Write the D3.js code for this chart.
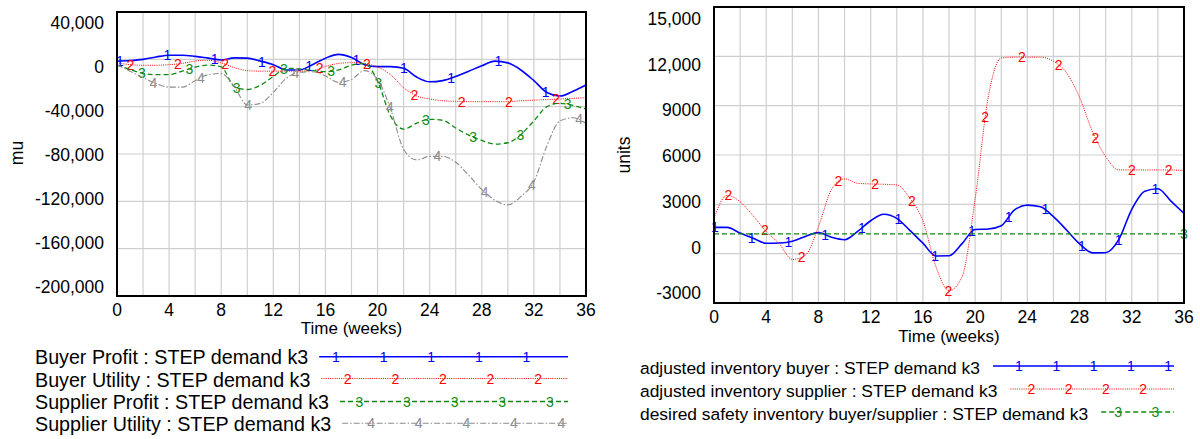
<!DOCTYPE html>
<html>
<head>
<meta charset="utf-8">
<script src="https://cdn.jsdelivr.net/npm/d3@7/dist/d3.min.js"></script>
<style>
  html, body { margin: 0; padding: 0; background: #fff; }
  svg { display: block; font-family: "Liberation Sans", Arial, sans-serif; }
</style>
</head>
<body>
<svg id="chart" width="1200" height="439"></svg>
<script>
// ---------------- DATA ----------------
const weeks = [0,1,2,3,4,5,6,7,8,9,10,11,12,13,14,15,16,17,18,19,20,21,22,23,24,25,26,27,28,29,30,31,32,33,34,35,36];

// Left chart (mu)
const buyerProfit = [-1500,-1000,0,2000,3500,3500,2500,1000,-500,1200,1000,-1500,-4500,-9000,-9000,-4500,1000,4200,1500,-4500,-6200,-6200,-7500,-15000,-19000,-18000,-14500,-10000,-5500,-1500,-3000,-9000,-18000,-28000,-31000,-27000,-21700];
const buyerUtility = [-3000,-4500,-5000,-5000,-4500,-3500,-1500,-800,-3000,-7000,-9500,-10000,-10000,-10000,-10000,-9500,-6000,-3500,-2800,-3500,-6500,-13000,-24000,-31000,-33500,-35000,-35500,-35800,-35800,-35800,-35800,-35000,-34500,-34000,-33500,-33000,-32400];
const supplierProfit = [-4800,-8500,-12000,-13000,-13000,-10000,-6500,-4800,-6300,-23000,-25500,-22000,-14500,-7600,-8000,-9500,-10400,-9000,-5000,-3500,-18500,-48000,-59000,-54000,-50700,-51500,-58000,-64000,-68500,-71600,-70500,-63500,-52000,-40000,-37200,-39000,-42000];
const supplierUtility = [-4800,-10000,-15500,-20500,-23500,-23500,-18000,-13000,-12000,-23000,-38600,-37200,-28000,-16000,-11000,-10500,-14000,-19500,-17000,-9500,-17000,-42000,-76000,-85000,-82000,-82000,-87000,-98000,-110000,-119000,-123000,-116000,-103400,-73000,-52000,-49400,-54000];
const leftYTicks = [40000,0,-40000,-80000,-120000,-160000,-200000];
const leftYTickLabels = ["40,000","0","-40,000","-80,000","-120,000","-160,000","-200,000"];

// Right chart (units)
const invBuyer = [1600,1600,1250,935,630,650,760,1050,1280,1000,850,1350,2000,2400,2150,1420,640,-140,-130,610,1470,1500,1700,2650,2950,2850,2250,1440,600,50,60,850,2700,3800,3950,3200,2450];
const invSupplier = [2150,3550,3160,2300,1350,600,-350,-100,1640,3900,4550,4280,4240,4220,4180,3370,2000,-790,-2250,-1400,3300,9500,11900,11950,11950,11950,11700,11000,9500,7400,5900,5100,5090,5090,5090,5090,5050];
const safetyInv = [1200,1200,1200,1200,1200,1200,1200,1200,1200,1200,1200,1200,1200,1200,1200,1200,1200,1200,1200,1200,1200,1200,1200,1200,1200,1200,1200,1200,1200,1200,1200,1200,1200,1200,1200,1200,1200];
const rightYTicks = [15000,12000,9000,6000,3000,0,-3000];
const rightYTickLabels = ["15,000","12,000","9000","6000","3000","0","-3000"];

const xTicks = [0,4,8,12,16,20,24,28,32,36];
const xGrid = [2,4,6,8,10,12,14,16,18,20,22,24,26,28,30,32,34];

const leftLegend = ["Buyer Profit : STEP demand k3","Buyer Utility : STEP demand k3","Supplier Profit : STEP demand k3","Supplier Utility : STEP demand k3"];
const rightLegend = ["adjusted inventory buyer : STEP demand k3","adjusted inventory supplier : STEP demand k3","desired safety inventory buyer/supplier : STEP demand k3"];

// ---------------- STYLES ----------------
const styles = {
  s1: {color:"#0000ff", width:1.6, dash:null, mark:"1"},
  s2: {color:"#ff0000", width:1, dash:"1,1.2", mark:"2"},
  s3: {color:"#108a10", width:1.3, dash:"5,3", mark:"3"},
  s4: {color:"#8c8c8c", width:1.1, dash:"6,2,1.5,2", mark:"4"}
};

const svg = d3.select("#chart");

function yAtX(node, px) {
  let lo = 0, hi = node.getTotalLength();
  for (let i = 0; i < 40; i++) {
    const mid = (lo + hi) / 2;
    const p = node.getPointAtLength(mid);
    if (p.x < px) lo = mid; else hi = mid;
  }
  return node.getPointAtLength((lo + hi) / 2).y;
}

function drawPanel(cfg) {
  const x = d3.scaleLinear().domain([0,36]).range(cfg.xr);
  const y = d3.scaleLinear().domain(cfg.yd).range(cfg.yr);
  const yLab = d3.scaleLinear().domain(cfg.yd).range(cfg.labr);
  const g = svg.append("g");

  // grid
  g.selectAll(".vg").data(xGrid).enter().append("line")
    .attr("x1", d => x(d)).attr("x2", d => x(d))
    .attr("y1", cfg.yr[1]).attr("y2", cfg.yr[0])
    .attr("stroke", "#cfcfcf").attr("stroke-width", 1.2);
  g.selectAll(".hg").data(cfg.yTicks).enter().append("line")
    .attr("x1", cfg.xr[0]).attr("x2", cfg.xr[1])
    .attr("y1", d => y(d)).attr("y2", d => y(d))
    .attr("stroke", "#cfcfcf").attr("stroke-width", 1.2);

  // series
  cfg.series.forEach((s, si) => {
    const st = styles[s.style];
    const line = d3.line().x((d,i) => x(weeks[i])).y(d => y(d)).curve(d3.curveMonotoneX);
    const path = g.append("path").datum(s.values)
      .attr("d", line).attr("fill", "none")
      .attr("stroke", st.color).attr("stroke-width", st.width)
      .attr("stroke-dasharray", st.dash);
    const node = path.node();
    const pts = [];
    if (s.markStart !== null) {
      for (let px = s.markStart; px <= cfg.xr[1] + 0.5; px += cfg.markStep) pts.push(px);
    }
    if (s.markEnd) pts.push(cfg.xr[1]);
    pts.forEach(px => {
      g.append("text").attr("x", px).attr("y", yAtX(node, Math.min(px, cfg.xr[1] - 0.01)))
        .attr("text-anchor", "middle").attr("dominant-baseline", "central")
        .attr("font-size", 14).attr("fill", st.color).text(st.mark);
    });
  });

  // border
  g.append("rect").attr("x", cfg.xr[0]).attr("y", cfg.yr[1])
    .attr("width", cfg.xr[1] - cfg.xr[0]).attr("height", cfg.yr[0] - cfg.yr[1])
    .attr("fill", "none").attr("stroke", "#000").attr("stroke-width", 2);

  // y tick labels
  g.selectAll(".yl").data(cfg.yTicks).enter().append("text")
    .attr("x", cfg.xr[0] - 13).attr("y", d => yLab(d))
    .attr("text-anchor", "end").attr("dominant-baseline", "central")
    .attr("font-size", 17.5).attr("fill", "#000")
    .text((d,i) => cfg.yTickLabels[i]);
  // x tick labels
  g.selectAll(".xl").data(xTicks).enter().append("text")
    .attr("x", d => x(d)).attr("y", cfg.xLabY)
    .attr("text-anchor", "middle").attr("dominant-baseline", "central")
    .attr("font-size", 17.5).attr("fill", "#000").text(d => d);
  // x title
  g.append("text").attr("x", (cfg.xr[0] + cfg.xr[1]) / 2).attr("y", cfg.xTitleY)
    .attr("text-anchor", "middle").attr("dominant-baseline", "central")
    .attr("font-size", 17).text("Time (weeks)");
  // y title
  g.append("text").attr("transform", `translate(${cfg.yTitleX},${cfg.yTitleY}) rotate(-90)`)
    .attr("text-anchor", "middle").attr("dominant-baseline", "central")
    .attr("font-size", 17.5).text(cfg.yTitle);

  // legend
  cfg.legend.forEach((lab, i) => {
    const st = styles[cfg.series[i].style];
    const t = g.append("text").attr("x", cfg.legX).attr("y", cfg.legBase[i])
      .attr("font-size", cfg.legFont).attr("fill", "#000").text(lab);
    const x0 = cfg.legX + t.node().getComputedTextLength() + cfg.legGap;
    const ly = cfg.legLineY[i];
    g.append("line").attr("x1", x0).attr("x2", cfg.legEnd).attr("y1", ly).attr("y2", ly)
      .attr("stroke", st.color).attr("stroke-width", st.width)
      .attr("stroke-dasharray", st.dash);
    for (let px = cfg.legMarkStart + i * cfg.legMarkOff; px <= cfg.legEnd; px += cfg.legMarkStep) {
      if (px < x0 + 4) continue;
      g.append("text").attr("x", px).attr("y", ly)
        .attr("text-anchor", "middle").attr("dominant-baseline", "central")
        .attr("font-size", 14).attr("fill", st.color).text(st.mark);
    }
  });
}

drawPanel({
  xr: [117, 586], yd: [-200000, 40000], yr: [296, 12], labr: [287, 23],
  yTicks: leftYTicks, yTickLabels: leftYTickLabels,
  xLabY: 309.5, xTitleY: 328, yTitleX: 17, yTitleY: 153, yTitle: "mu",
  markStep: 47.3,
  series: [
    {values: buyerProfit, style: "s1", markStart: 120},
    {values: buyerUtility, style: "s2", markStart: 130.5},
    {values: supplierProfit, style: "s3", markStart: 142},
    {values: supplierUtility, style: "s4", markStart: 153.5}
  ],
  legend: leftLegend, legX: 35, legFont: 19.7, legGap: 11,
  legBase: [364, 386.5, 408.7, 431], legLineY: [356.7, 378.5, 401.5, 423.3],
  legEnd: 568, legMarkStart: 336, legMarkOff: 11.7, legMarkStep: 47.6
});

drawPanel({
  xr: [714, 1184], yd: [-3000, 15000], yr: [303, 7], labr: [293.3, 19],
  yTicks: rightYTicks, yTickLabels: rightYTickLabels,
  xLabY: 317, xTitleY: 336, yTitleX: 623.5, yTitleY: 155, yTitle: "units",
  markStep: 36.7,
  series: [
    {values: invBuyer, style: "s1", markStart: 715},
    {values: invSupplier, style: "s2", markStart: 728.3},
    {values: safetyInv, style: "s3", markStart: null, markEnd: true}
  ],
  legend: rightLegend, legX: 640, legFont: 17.4, legGap: 13,
  legBase: [374, 397, 420], legLineY: [366, 389, 412],
  legEnd: 1174, legMarkStart: 1019, legMarkOff: 12.3, legMarkStep: 37.3
});
</script>
</body>
</html>
